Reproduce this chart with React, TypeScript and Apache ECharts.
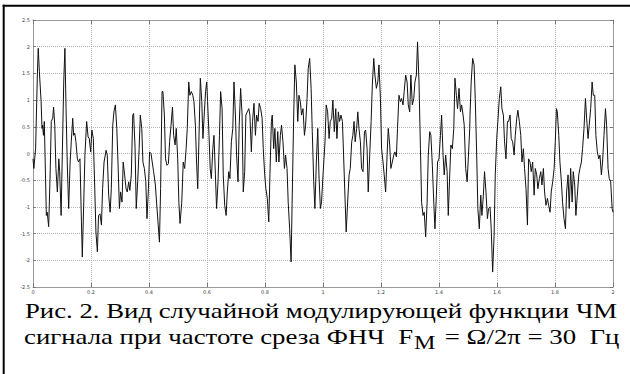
import React, { useEffect, useRef } from "react";
import * as echarts from "echarts";

// Signal readings [t, value] in four segments
const seg1: number[][] = [
  [0.000,-0.1],[0.003,-0.28],[0.009,0.1],[0.015,1.47],[0.018,1.97],[0.022,1.53],[0.028,0.97],[0.031,0.47],[0.033,0.53],[0.036,0.34],[0.039,0.6],[0.043,-0.4],[0.046,-1.16],[0.049,-1.1],[0.054,-1.37],[0.059,-0.4],[0.063,0.6],[0.068,0.66],[0.071,0.87],[0.075,0.53],[0.079,-0.28],[0.084,-0.72],[0.089,-0.1],[0.092,-0.34],[0.097,-1.16],[0.101,-0.03],[0.106,1.34],[0.110,1.97],[0.114,0.84],[0.118,-0.16],[0.123,-1.03],[0.128,-0.16],[0.132,0.22],[0.137,0.66],[0.140,0.34],[0.144,0.38],[0.148,0.22],[0.153,-0.1],[0.157,-0.16],[0.162,-0.1],[0.167,-1.28],[0.170,-1.94],[0.175,-0.91],[0.179,-0.03],[0.185,0.6],[0.190,0.31],[0.194,0.28],[0.199,0.03],[0.203,0.44],[0.208,0.28],[0.213,-0.66],[0.217,-1.47],[0.222,-1.84],[0.226,-1.16],[0.231,-1.13],[0.236,-1.34],[0.240,-0.66],[0.245,-0.16],[0.252,0.06],[0.256,-0.03],[0.261,-0.78],[0.266,-1.1],[0.270,-0.66],[0.275,0.53],[0.279,0.78],[0.284,0.91],[0.289,0.47],[0.293,-0.16],[0.298,-1.03],[0.302,-0.72],[0.307,-0.91],[0.311,-0.16],[0.316,-0.4],[0.321,-0.66],[0.325,-0.72],[0.330,-0.53],[0.334,-0.69],[0.339,-0.4],[0.344,0.72],[0.347,0.75],[0.352,0.09],[0.356,-1.03],[0.361,-0.53],[0.366,0.09],[0.370,0.72],[0.375,0.47],[0.379,-0.16],[0.384,-0.28],[0.389,-0.53],[0.393,-1.22],[0.398,-0.66],[0.402,0.03],[0.407,0.0],[0.411,-0.16],[0.416,-0.34],[0.422,-0.59],[0.426,-0.91],[0.431,-1.28],[0.436,-1.66],[0.440,-0.66],[0.445,1.16],[0.448,1.16],[0.453,0.72],[0.457,-0.1],[0.462,-0.22],[0.467,-0.19],[0.471,0.22],[0.476,0.53],[0.481,0.87],[0.485,0.34],[0.490,0.16],[0.494,0.47],[0.499,-0.1],[0.503,-0.91]
];
const seg2: number[][] = [
  [0.507,-1.31],[0.513,-0.91],[0.518,-0.16],[0.523,-0.28],[0.528,0.09],[0.532,0.47],[0.537,1.34],[0.541,1.09],[0.546,1.16],[0.551,1.09],[0.555,0.97],[0.560,0.53],[0.564,-0.16],[0.568,-0.66],[0.572,0.22],[0.577,1.41],[0.582,0.97],[0.586,0.28],[0.591,0.78],[0.595,1.16],[0.599,1.34],[0.602,0.97],[0.607,0.34],[0.611,-0.28],[0.615,-0.47],[0.620,0.09],[0.624,0.34],[0.629,-0.4],[0.633,-1.03],[0.638,-0.53],[0.643,0.34],[0.647,1.16],[0.652,0.84],[0.656,-0.4],[0.661,-0.97],[0.666,-1.16],[0.670,-0.72],[0.675,-0.34],[0.679,-0.47],[0.684,0.22],[0.689,0.47],[0.693,1.34],[0.698,0.72],[0.702,-0.03],[0.707,-0.53],[0.711,0.53],[0.716,1.22],[0.721,0.72],[0.725,-0.72],[0.730,-0.34],[0.734,0.72],[0.739,0.78],[0.744,0.84],[0.748,0.72],[0.753,0.03],[0.757,0.6],[0.762,0.94],[0.767,0.34],[0.771,0.72],[0.776,0.6],[0.780,0.94],[0.785,0.84],[0.790,0.66],[0.794,0.09],[0.799,-0.4],[0.803,-0.66],[0.808,-0.84],[0.813,-1.28],[0.817,-0.4],[0.822,0.6],[0.825,0.72],[0.830,0.09],[0.834,0.47],[0.839,-0.16],[0.844,0.41],[0.848,-0.16],[0.853,0.34],[0.857,0.53],[0.862,0.22],[0.867,-0.28],[0.871,-0.03],[0.876,-0.28],[0.880,-0.91],[0.885,-1.41],[0.890,-2.03],[0.894,-0.78],[0.899,0.72],[0.903,1.66],[0.908,1.34],[0.913,0.6],[0.917,1.09],[0.922,0.97],[0.926,0.72],[0.931,0.84],[0.936,0.34],[0.940,0.53],[0.945,1.03],[0.949,1.59],[0.954,1.78],[0.959,1.22],[0.963,0.41],[0.968,-0.53],[0.972,-1.03],[0.977,-0.16],[0.982,0.47],[0.986,-0.4],[0.991,-1.03],[0.995,-0.91],[1.000,-0.4]
];
const seg3: number[][] = [
  [1.007,0.22],[1.011,0.91],[1.016,0.78],[1.021,0.28],[1.025,0.6],[1.030,0.66],[1.034,1.0],[1.039,0.41],[1.044,0.84],[1.048,0.28],[1.053,0.78],[1.057,0.6],[1.062,0.72],[1.067,0.6],[1.071,-0.03],[1.076,-0.84],[1.080,-1.47],[1.085,-0.91],[1.090,-0.4],[1.094,-0.28],[1.099,0.22],[1.103,0.34],[1.107,0.6],[1.111,0.22],[1.116,0.47],[1.120,0.78],[1.124,0.47],[1.129,0.22],[1.133,-0.28],[1.138,-0.34],[1.143,0.41],[1.147,0.44],[1.152,0.09],[1.156,-0.72],[1.161,-0.03],[1.166,0.6],[1.170,1.28],[1.175,1.78],[1.179,1.47],[1.184,1.22],[1.189,1.34],[1.193,1.66],[1.198,1.03],[1.202,0.09],[1.207,-0.16],[1.211,-0.4],[1.216,-0.72],[1.221,-0.03],[1.225,0.47],[1.230,0.16],[1.234,-0.28],[1.239,-0.16],[1.244,-0.03],[1.248,0.03],[1.253,-0.06],[1.257,0.47],[1.262,1.09],[1.267,0.97],[1.271,1.03],[1.276,0.91],[1.280,1.16],[1.285,1.47],[1.290,1.34],[1.294,0.91],[1.299,0.78],[1.303,1.47],[1.308,0.91],[1.313,1.03],[1.317,1.34],[1.322,1.47],[1.326,2.09],[1.331,1.34],[1.336,0.09],[1.340,-0.91],[1.345,-1.16],[1.349,-1.1],[1.354,-1.56],[1.359,-0.91],[1.363,-0.03],[1.368,0.41],[1.372,0.34],[1.377,-0.22],[1.382,-0.91],[1.386,-1.41],[1.391,-0.78],[1.395,-0.16],[1.400,-0.1],[1.405,0.34],[1.409,0.72],[1.414,-0.03],[1.418,-0.4],[1.423,-0.03],[1.428,-0.34],[1.432,-1.16],[1.437,-0.4],[1.441,0.16],[1.446,0.09],[1.451,0.47],[1.455,1.41],[1.460,1.09],[1.464,0.84],[1.469,1.22],[1.474,0.78],[1.478,0.91],[1.483,0.72],[1.487,0.53],[1.492,-0.28],[1.497,-0.53],[1.501,-0.1],[1.506,0.47]
];
const seg4: number[][] = [
  [1.507,0.72],[1.511,1.34],[1.516,1.78],[1.521,1.66],[1.525,1.03],[1.530,-0.03],[1.534,-1.03],[1.539,-1.41],[1.544,-0.78],[1.548,-1.16],[1.553,-0.78],[1.557,-0.34],[1.562,-0.72],[1.567,-1.22],[1.571,-1.03],[1.576,-1.0],[1.580,-1.41],[1.585,-2.22],[1.590,-1.53],[1.594,-0.4],[1.599,0.28],[1.603,0.6],[1.608,1.03],[1.613,1.25],[1.617,0.84],[1.622,0.72],[1.626,0.22],[1.631,-0.1],[1.636,0.6],[1.640,0.6],[1.645,0.72],[1.649,0.28],[1.654,0.22],[1.659,-0.03],[1.663,0.34],[1.668,0.66],[1.672,0.81],[1.677,0.6],[1.682,0.34],[1.686,-0.16],[1.691,0.09],[1.695,-0.28],[1.700,-0.66],[1.705,-1.34],[1.709,-0.1],[1.714,-0.16],[1.718,-0.34],[1.723,-0.16],[1.728,-0.78],[1.732,-0.28],[1.737,-0.4],[1.741,-0.66],[1.746,-0.47],[1.751,-0.34],[1.755,-0.59],[1.760,-0.28],[1.764,-0.72],[1.769,-0.97],[1.774,-0.84],[1.778,-0.97],[1.783,-1.1],[1.787,-0.72],[1.792,-0.53],[1.797,-0.28],[1.801,0.22],[1.805,0.84],[1.808,0.78],[1.813,0.34],[1.817,-0.16],[1.822,-0.53],[1.826,-0.91],[1.831,-1.22],[1.836,-1.41],[1.840,-0.72],[1.845,-0.4],[1.849,-1.03],[1.854,-0.28],[1.859,-0.91],[1.863,-0.34],[1.868,-0.59],[1.872,-1.16],[1.877,-0.78],[1.882,-0.4],[1.886,-0.28],[1.891,-0.16],[1.895,0.09],[1.900,0.47],[1.905,1.03],[1.909,0.66],[1.914,0.28],[1.918,0.53],[1.923,0.84],[1.928,1.34],[1.932,1.09],[1.937,1.09],[1.941,0.34],[1.946,0.03],[1.951,-0.1],[1.955,-0.03],[1.960,-0.4],[1.964,-0.16],[1.969,0.34],[1.974,0.84],[1.978,0.53],[1.983,-0.28],[1.987,-0.47],[1.992,-0.53],[1.997,-1.03],[2.000,-1.1]
];

const xRange = [0, 2];
const xStep = 0.2;
const yRange = [-2.5, 2.5];
const yStep = 0.5;

const captionLine1 = "Рис. 2. Вид случайной модулирующей функции ЧМ";
const captionLine2a = "сигнала при частоте среза ФНЧ  F";
const captionLine2sub = "M";
const captionLine2b = "= Ω/2π = 30  Гц";

export default function App() {
  const ref = useRef<HTMLDivElement>(null);
  useEffect(() => {
    if (!ref.current) return;
    const chart = echarts.init(ref.current, undefined, { renderer: "svg" });
    const data = [...seg1, ...seg2, ...seg3, ...seg4];
    const axisGray = "#9a9a9a";
    const labelStyle = { fontSize: 5, color: "#444", fontFamily: "DejaVu Sans" };
    const splitLine = { show: true, lineStyle: { color: "#b4b4b4", type: "dotted", width: 1 } };
    const serif = '"Liberation Serif", "Times New Roman", serif';
    const sx = 1.34;
    chart.setOption({
      animation: false,
      backgroundColor: "#fff",
      grid: { left: 33, top: 20, width: 580, height: 267 },
      xAxis: [
        {
          type: "value", min: xRange[0], max: xRange[1], interval: xStep,
          axisLine: { show: true, onZero: false, lineStyle: { color: axisGray, width: 1 } },
          axisTick: { show: true, inside: true, length: 4, lineStyle: { color: "#777" } },
          axisLabel: { ...labelStyle, margin: 2 },
          splitLine,
        },
        {
          type: "value", position: "top", min: xRange[0], max: xRange[1], interval: xStep,
          axisLine: { show: true, onZero: false, lineStyle: { color: axisGray, width: 1 } },
          axisTick: { show: true, inside: true, length: 4, lineStyle: { color: "#777" } },
          axisLabel: { show: false }, splitLine: { show: false },
        },
      ],
      yAxis: [
        {
          type: "value", min: yRange[0], max: yRange[1], interval: yStep,
          axisLine: { show: true, onZero: false, lineStyle: { color: axisGray, width: 1 } },
          axisTick: { show: true, inside: true, length: 3, lineStyle: { color: "#777" } },
          axisLabel: { ...labelStyle, margin: 3 },
          splitLine,
        },
        {
          type: "value", position: "right", min: yRange[0], max: yRange[1], interval: yStep,
          axisLine: { show: true, onZero: false, lineStyle: { color: axisGray, width: 1 } },
          axisTick: { show: true, inside: true, length: 3, lineStyle: { color: "#777" } },
          axisLabel: { show: false }, splitLine: { show: false },
        },
      ],
      series: [
        {
          type: "line", xAxisIndex: 0, yAxisIndex: 0, data,
          showSymbol: false, symbol: "none",
          lineStyle: { color: "#111", width: 1 },
        },
      ],
      graphic: [
        { type: "line", shape: { x1: 2.7, y1: 5.7, x2: 630, y2: 5.7 }, style: { stroke: "#000", lineWidth: 2 } },
        { type: "line", shape: { x1: 3.7, y1: 4.7, x2: 3.7, y2: 374 }, style: { stroke: "#000", lineWidth: 2 } },
        { type: "text", x: 321, y: 311, scaleX: sx, style: { text: captionLine1, font: `20px ${serif}`, fill: "#000", textAlign: "center", textVerticalAlign: "middle" } },
        {
          type: "group", x: 24, y: 337, scaleX: sx,
          children: [
            { type: "text", x: 0, y: 0, style: { text: captionLine2a, font: `20px ${serif}`, fill: "#000", textAlign: "left", textVerticalAlign: "middle" } },
            { type: "text", x: 291, y: 6, style: { text: captionLine2sub, font: `18px ${serif}`, fill: "#000", textAlign: "left", textVerticalAlign: "middle" } },
            { type: "text", x: 314, y: 0, style: { text: captionLine2b, font: `20px ${serif}`, fill: "#000", textAlign: "left", textVerticalAlign: "middle" } },
          ],
        },
      ],
    });
    return () => chart.dispose();
  }, []);
  return (
    <div
      ref={ref}
      style={{ position: "fixed", left: 0, top: 0, width: 630, height: 374, background: "#fff" }}
    />
  );
}
